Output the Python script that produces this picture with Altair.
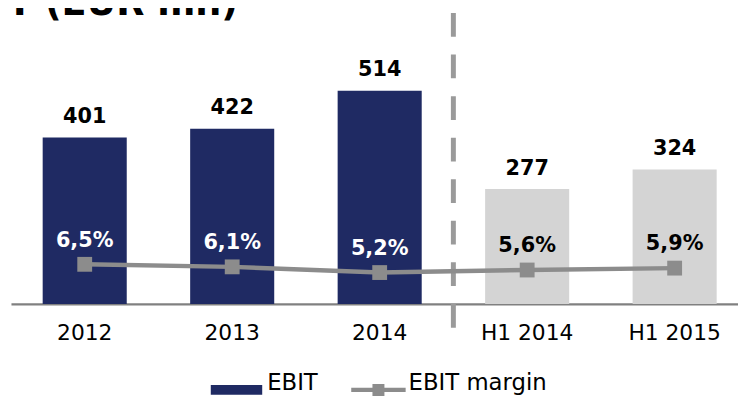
import altair as alt
import pandas as pd

# ---- data ----
categories = ["2012", "2013", "2014", "H1 2014", "H1 2015"]
ebit = [401, 422, 514, 277, 324]
margin = [6.5, 6.1, 5.2, 5.6, 5.9]
kind = ["EBIT", "EBIT", "EBIT", "H1", "H1"]
title_text = "EBIT (EUR mn)"

NAVY = "#1f2a63"
LIGHT = "#d4d4d4"
GRAY = "#8c8c8c"
DASH = "#9a9a9a"
F = "DejaVu Sans"

df = pd.DataFrame({
    "period": categories,
    "ebit": ebit,
    "margin": margin,
    "kind": kind,
    "mlabel": [("%.1f" % m).replace(".", ",") + "%" for m in margin],
    "series": ["EBIT margin"] * len(categories),
})


def X():
    return alt.X(
        "period:N",
        scale=alt.Scale(domain=categories, range=[3, 748.5], paddingInner=0.43, paddingOuter=0.215),
        axis=alt.Axis(title=None, labelAngle=0, labelFontSize=22, labelFont=F, labelColor="black",
                      ticks=False, domainColor="#808080", domainWidth=2.5, labelPadding=19, grid=False),
    )


Y_BAR = alt.Scale(domain=[0, 700], range=[297, 3.4])
Y_LINE = alt.Scale(domain=[0, 40], range=[298.6, 42.6])

base = alt.Chart(df)

bars = base.mark_bar().encode(
    x=X(),
    y=alt.Y("ebit:Q", scale=Y_BAR, axis=None),
    fill=alt.Fill(
        "kind:N",
        scale=alt.Scale(domain=["EBIT", "H1"], range=[NAVY, LIGHT]),
        legend=alt.Legend(title=None, orient="none", legendX=205, legendY=358, values=["EBIT"],
                          symbolType="M-1,-0.19H1V0.19H-1Z", symbolSize=2704, symbolStrokeWidth=0,
                          labelFontSize=23, labelFont=F, labelColor="black", labelOffset=5,
                          labelBaseline="alphabetic", padding=0),
    ),
)

bar_labels = base.mark_text(fontSize=21, fontWeight="bold", font=F, baseline="alphabetic",
                            dy=-14.5, color="black").encode(
    x=X(), y=alt.Y("ebit:Q", scale=Y_BAR, axis=None), text="ebit:Q")

left = alt.layer(bars, bar_labels)

line = base.mark_line(color=GRAY, strokeWidth=4.5).encode(
    x=X(), y=alt.Y("margin:Q", scale=Y_LINE, axis=None))

squares = base.mark_square(size=225, opacity=1).encode(
    x=X(),
    y=alt.Y("margin:Q", scale=Y_LINE, axis=None),
    color=alt.Color(
        "series:N",
        scale=alt.Scale(domain=["EBIT margin"], range=[GRAY]),
        legend=alt.Legend(title=None, orient="none", legendX=347, legendY=356.5,
                          symbolType="M-1,-0.08H-0.22V-0.22H0.22V-0.08H1V0.08H0.22V0.22H-0.22V0.08H-1Z",
                          symbolSize=3025, symbolStrokeWidth=0, symbolOpacity=1,
                          labelFontSize=23, labelFont=F, labelColor="black", labelOffset=3,
                          labelBaseline="alphabetic", padding=0),
    ),
)

pct_white = base.transform_filter(alt.datum.kind == "EBIT").mark_text(
    fontSize=21, fontWeight="bold", font=F, baseline="alphabetic", dy=-18, color="white").encode(
    x=X(), y=alt.Y("margin:Q", scale=Y_LINE, axis=None), text="mlabel:N")

pct_black = base.transform_filter(alt.datum.kind == "H1").mark_text(
    fontSize=21, fontWeight="bold", font=F, baseline="alphabetic", dy=-18, color="black").encode(
    x=X(), y=alt.Y("margin:Q", scale=Y_LINE, axis=None), text="mlabel:N")

right = alt.layer(line, squares, pct_white, pct_black)

rule = alt.Chart(pd.DataFrame({"period": ["2014"]})).mark_rule(
    color=DASH, strokeWidth=5, strokeDash=[24, 18], xOffset=74.5).encode(
    x=X(), y=alt.value(3), y2=alt.value(321))

title = alt.Chart(pd.DataFrame({"t": [title_text]})).mark_text(
    align="left", baseline="alphabetic", fontSize=37, fontWeight="bold", font=F, color="black").encode(
    x=alt.value(-68), y=alt.value(5), text="t:N")

chart = alt.layer(left, rule, right, title).resolve_scale(y="independent").properties(
    width=738, height=297, autosize=alt.AutoSizeParams(type="none"),
    padding={"left": 0, "top": 0, "right": 0, "bottom": 92},
).configure(background="white").configure_view(stroke=None)

chart.save("out.html", embed_options={"renderer": "svg", "actions": False})
